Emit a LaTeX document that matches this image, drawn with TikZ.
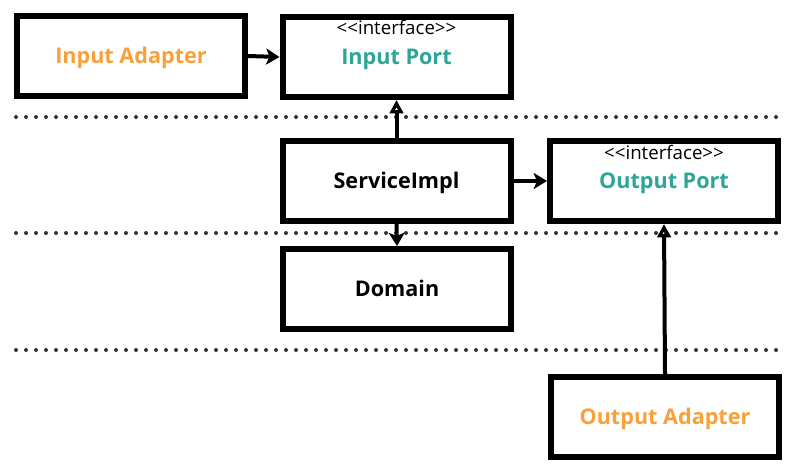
\documentclass[tikz,border=0pt]{standalone}
\usepackage{fontspec}
\setmainfont{Open Sans}
\usetikzlibrary{arrows.meta}
\definecolor{adorange}{HTML}{FAA03A}
\definecolor{portteal}{HTML}{2BA698}
\definecolor{dotgray}{HTML}{333333}
\tikzset{
  box/.style={draw=black, line width=4.5pt, fill=white, minimum width=171pt, minimum height=60pt, inner sep=0pt, text height=11.6pt, text depth=0pt, font=\fontsize{16.2}{19}\selectfont\bfseries},
  iface/.style={font=\fontsize{14}{16}\selectfont, inner sep=0pt, text=black},
  dep/.style={line width=3pt, -{Stealth[length=10pt, width=12pt, inset=2.5pt]}},
  impl/.style={line width=3pt, -{Triangle[open, length=10pt, width=10pt]}},
  layer/.style={dotgray, line width=3pt, line cap=round, dash pattern=on 0pt off 7.5pt}
}
\newcommand{\ifacetext}{<\kern0pt<interface>\kern0pt>}
\begin{document}
\begin{tikzpicture}[x=0.75pt, y=-0.75pt]
\useasboundingbox (0,0) rectangle (791,469);
\fill[white] (0,0) rectangle (791,469);
% layer separators
\coordinate (l1a) at (16,117); \coordinate (l1b) at (781,117);
\coordinate (l2a) at (16,233); \coordinate (l2b) at (781,233);
\coordinate (l3a) at (16,350); \coordinate (l3b) at (781,350);
\draw[layer] (l1a) -- (l1b);
\draw[layer] (l2a) -- (l2b);
\draw[layer] (l3a) -- (l3b);
% boxes
\node[box, text=adorange] (ia) at (131,56) {Input Adapter};
\node[box, text=portteal] (ip) at (396.5,57) {Input Port};
\node[iface] (ipi) at ([yshift=-10pt]ip.north) {\ifacetext};
\node[box] (si) at (396.5,181) {ServiceImpl};
\node[box, text=portteal] (op) at (664,181) {Output Port};
\node[iface] (opi) at ([yshift=-10.5pt]op.north) {\ifacetext};
\node[box] (dm) at (397,289) {Domain};
\node[box, text=adorange] (oa) at (665,417) {Output Adapter};
% connectors
\draw[dep] (ia.east) -- (ip.west);
\draw[impl] (si.north) -- (ip.south);
\draw[dep] (si.east) -- (op.west);
\draw[dep] (si.south) -- (dm.north);
\draw[impl] (oa.north) -- (op.south);
\end{tikzpicture}
\end{document}
